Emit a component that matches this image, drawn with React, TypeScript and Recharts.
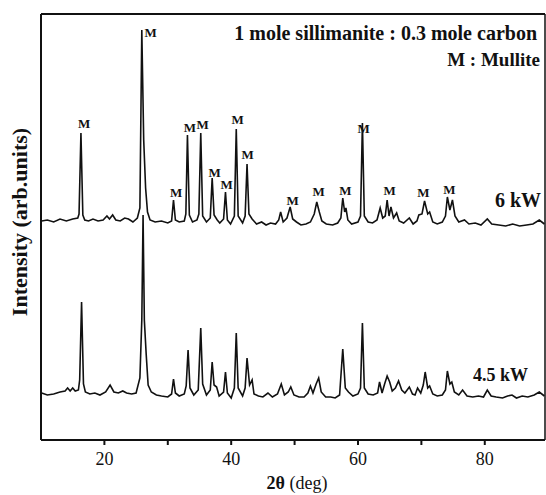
import React from "react";
import {
  ComposedChart,
  Line,
  Scatter,
  XAxis,
  YAxis,
  ReferenceLine,
} from "recharts";

// XRD patterns, [2θ (deg), intensity (arb. units)]
const pattern6kW: [number, number][] = [
  [10.1, 219], [11, 220], [12, 218], [13, 221], [14, 219], [15, 221], [15.8, 222],
  [16.0, 226], [16.3, 307], [16.6, 225], [16.9, 220], [17.5, 219], [18.2, 221],
  [19, 219], [19.8, 220], [20.4, 224], [20.8, 221], [21.3, 225], [21.8, 220],
  [22.5, 219], [23.2, 222], [23.8, 221], [24.5, 218], [25.2, 222], [25.6, 232],
  [25.9, 410], [26.2, 300], [26.5, 252], [26.8, 228], [27.2, 220], [28, 218],
  [29, 219], [30, 217], [30.6, 219], [30.9, 240], [31.2, 220], [31.8, 218],
  [32.6, 219], [32.85, 226], [33.1, 305], [33.4, 225], [33.9, 218], [34.6, 220],
  [34.9, 226], [35.2, 307], [35.5, 224], [36.1, 218], [36.7, 222], [37.0, 262],
  [37.3, 225], [37.8, 220], [38.2, 217], [38.8, 221], [39.1, 248], [39.4, 220],
  [39.9, 216], [40.5, 224], [40.8, 311], [41.1, 224], [41.8, 217], [42.2, 224],
  [42.5, 276], [42.8, 226], [43.3, 221], [44, 216], [44.8, 218], [45.5, 215],
  [46.2, 217], [47, 216], [47.5, 220], [47.8, 228], [48.2, 218], [48.8, 222],
  [49.3, 233], [49.7, 221], [50.3, 218], [51, 215], [51.8, 216], [52.5, 218],
  [53.1, 226], [53.5, 238], [53.9, 228], [54.3, 219], [55, 216], [56, 215],
  [56.8, 217], [57.3, 222], [57.6, 242], [57.9, 228], [58.1, 232], [58.4, 220],
  [59, 216], [60, 218], [60.4, 224], [60.7, 317], [61.0, 224], [61.6, 218],
  [62.3, 217], [63.0, 220], [63.5, 232], [63.9, 222], [64.3, 224], [64.6, 240],
  [64.9, 224], [65.2, 233], [65.6, 222], [66.1, 227], [66.5, 219], [67.2, 217],
  [68.1, 222], [68.7, 216], [69.3, 219], [69.6, 225], [70.1, 226], [70.5, 239],
  [71.0, 226], [71.3, 228], [71.8, 218], [72.5, 216], [73.3, 218], [73.8, 224],
  [74.1, 243], [74.5, 230], [74.9, 240], [75.3, 224], [75.9, 218], [76.8, 220],
  [77.5, 216], [78.5, 217], [79.4, 215], [80.4, 221], [81.1, 216], [82.2, 215],
  [83.3, 214], [84.4, 216], [85.5, 214], [86.6, 215], [87.6, 216], [88.6, 220],
  [89.4, 216],
];

const pattern45kW: [number, number][] = [
  [10.1, 47], [11, 45], [12, 46], [13, 48], [13.8, 49], [14.2, 52], [14.6, 49],
  [15.0, 52], [15.4, 49], [15.9, 50], [16.1, 60], [16.4, 138], [16.7, 56],
  [17.0, 48], [17.7, 46], [18.5, 47], [19.3, 45], [20.2, 48], [20.9, 55],
  [21.5, 48], [22.2, 47], [22.9, 49], [23.5, 47], [24.3, 46], [25.0, 47],
  [25.6, 62], [25.9, 120], [26.1, 225], [26.3, 120], [26.6, 85], [26.9, 55],
  [27.4, 48], [28.2, 45], [29, 44], [30, 43], [30.6, 46], [30.9, 61], [31.2, 47],
  [31.8, 44], [32.6, 46], [32.9, 54], [33.2, 90], [33.5, 52], [34.1, 45],
  [34.8, 50], [35.2, 112], [35.5, 56], [36.1, 45], [36.7, 50], [37.0, 78],
  [37.3, 55], [37.7, 53], [38.1, 44], [38.8, 48], [39.1, 68], [39.4, 47],
  [40.0, 42], [40.5, 52], [40.8, 107], [41.1, 52], [41.8, 44], [42.2, 52],
  [42.5, 82], [42.9, 55], [43.3, 60], [43.6, 46], [44.3, 44], [45.0, 43],
  [45.8, 47], [46.5, 43], [47.3, 46], [47.9, 56], [48.4, 45], [49.0, 48],
  [49.4, 53], [49.9, 45], [50.7, 43], [51.5, 43], [52.1, 47], [52.5, 54],
  [52.9, 47], [53.4, 56], [53.8, 62], [54.2, 48], [54.9, 43], [55.7, 43],
  [56.4, 42], [57.1, 45], [57.6, 91], [58.0, 52], [58.5, 48], [59.2, 44],
  [60.0, 46], [60.4, 52], [60.7, 117], [61.0, 52], [61.6, 46], [62.4, 45],
  [63.1, 47], [63.4, 58], [63.8, 47], [64.2, 56], [64.6, 64], [65.0, 58],
  [65.4, 49], [65.9, 52], [66.4, 59], [66.9, 50], [67.4, 47], [68.1, 53],
  [68.6, 46], [69.0, 45], [69.4, 52], [69.9, 47], [70.3, 55], [70.6, 68],
  [71.0, 52], [71.3, 54], [71.8, 46], [72.5, 44], [73.3, 45], [73.8, 50],
  [74.1, 69], [74.5, 56], [74.8, 58], [75.2, 48], [75.9, 45], [76.5, 50],
  [77.2, 44], [78.1, 43], [79.0, 44], [79.8, 43], [80.4, 50], [81.0, 44],
  [81.8, 43], [82.8, 42], [83.6, 44], [84.3, 45], [85.0, 42], [85.9, 44],
  [86.8, 43], [87.8, 45], [88.6, 48], [89.4, 44],
];

// "M" (mullite) markers above the 6 kW peaks
const mullitePeaks: [number, number][] = [
  [16.8, 317], [27.3, 408], [31.3, 248], [33.5, 313], [35.5, 316], [37.4, 268],
  [39.3, 256], [41.0, 321], [42.6, 286], [49.7, 240], [53.8, 249], [58.0, 250],
  [60.9, 312], [65.0, 250], [70.3, 248], [74.4, 251],
];

const xTicks = [20, 30, 40, 50, 60, 70, 80];
const labelledTicks = [20, 40, 60, 80];
const xDomain: [number, number] = [10, 89.5];
const yDomain: [number, number] = [0, 426];

const toRows = (arr: [number, number][]) => arr.map(([t, v]) => ({ t, v }));

const serif = "'Liberation Serif', 'Times New Roman', serif";
const ink = "#111";

const MLabel = (props: any) => (
  <text
    x={props.cx}
    y={props.cy}
    textAnchor="middle"
    dominantBaseline="central"
    fontFamily={serif}
    fontWeight="bold"
    fontSize={13}
    fill={ink}
  >
    M
  </text>
);

const textStyle = (size: number, bold = true): React.CSSProperties => ({
  position: "absolute",
  fontFamily: serif,
  fontWeight: bold ? "bold" : "normal",
  fontSize: size,
  whiteSpace: "nowrap",
  color: ink,
  lineHeight: 1,
});

const App = () => {
  return (
    <div style={{ position: "relative", width: 546, height: 495, background: "#fff" }}>
      <style>{"body{margin:0}"}</style>
      <ComposedChart
        width={546}
        height={495}
        margin={{ top: 14, right: 1, left: 41, bottom: 0 }}
      >
        <XAxis
          dataKey="t"
          type="number"
          domain={xDomain}
          ticks={xTicks}
          tickFormatter={(v) => (labelledTicks.includes(v) ? String(v) : "")}
          height={55}
          tickSize={5}
          tickMargin={7}
          stroke={ink}
          strokeWidth={2}
          tick={{ fill: ink, fontSize: 18, fontFamily: serif }}
          allowDataOverflow
        />
        <YAxis type="number" domain={yDomain} hide allowDataOverflow />
        <ReferenceLine y={yDomain[1]} stroke={ink} strokeWidth={2} />
        <ReferenceLine x={xDomain[0]} stroke={ink} strokeWidth={2} />
        <ReferenceLine x={xDomain[1]} stroke={ink} strokeWidth={1.5} />
        <Line
          data={toRows(pattern6kW)}
          dataKey="v"
          type="linear"
          stroke={ink}
          strokeWidth={1.6}
          dot={false}
          isAnimationActive={false}
        />
        <Line
          data={toRows(pattern45kW)}
          dataKey="v"
          type="linear"
          stroke={ink}
          strokeWidth={1.6}
          dot={false}
          isAnimationActive={false}
        />
        <Scatter
          data={toRows(mullitePeaks)}
          dataKey="v"
          shape={MLabel}
          isAnimationActive={false}
        />
      </ComposedChart>

      <div style={{ ...textStyle(20), right: 9, top: 23 }}>
        1 mole sillimanite : 0.3 mole carbon
      </div>
      <div style={{ ...textStyle(19), right: 6, top: 50 }}>M : Mullite</div>
      <div style={{ ...textStyle(20), right: 5, top: 190 }}>6 kW</div>
      <div style={{ ...textStyle(18), right: 18, top: 366 }}>4.5 kW</div>
      <div
        style={{
          ...textStyle(22),
          left: 20,
          top: 222,
          transform: "translate(-50%, -50%) rotate(-90deg)",
        }}
      >
        Intensity (arb.units)
      </div>
      <div
        style={{
          ...textStyle(18, false),
          left: 297,
          top: 483,
          transform: "translate(-50%, -50%)",
        }}
      >
        <b>2θ</b> (deg)
      </div>
    </div>
  );
};

export default App;
